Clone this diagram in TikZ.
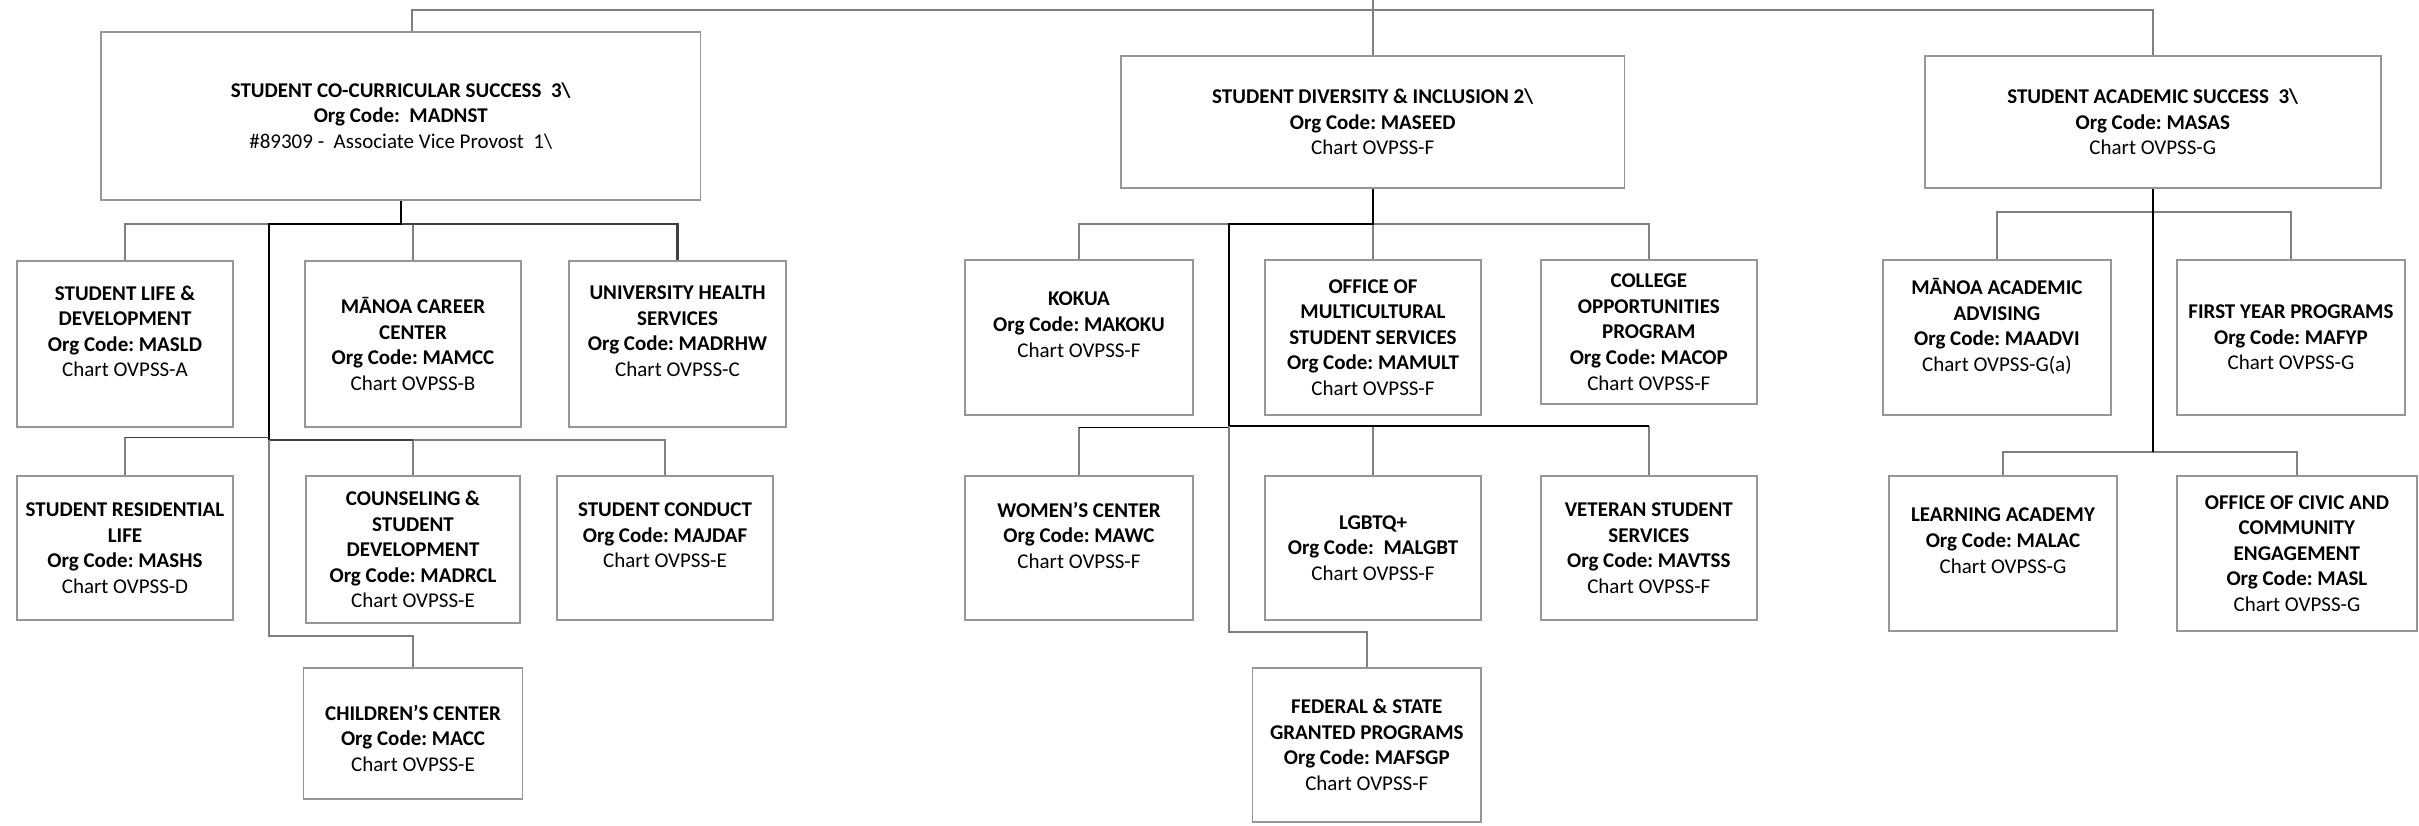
\documentclass[tikz,border=0pt]{standalone}
\usepackage{fontspec}
\setmainfont{Carlito}
\frenchspacing
\definecolor{boxgray}{RGB}{150,150,150}
\definecolor{lngray}{RGB}{128,128,128}
\definecolor{dkgray}{RGB}{64,64,64}
\begin{document}
\frenchspacing
\begin{tikzpicture}[x=1pt,y=-1pt,
  box/.style={draw=boxgray, line width=1.8pt, align=center, inner sep=0pt,
    font=\fontsize{21}{25.6}\selectfont},
  gl/.style={draw=lngray, line width=1.6pt},
  bk/.style={draw=black, line width=2.5pt},
  bkt/.style={draw=black, line width=1.6pt},
  dg/.style={draw=dkgray, line width=2.2pt}]
\useasboundingbox (0,0) rectangle (2419,825);

% ---------- top level boxes ----------
\node[box, minimum width=599.5pt, minimum height=168.3pt] (sccs) at (400.75,115.85)
  {\textbf{STUDENT CO-CURRICULAR SUCCESS\ \ 3\textbackslash}\\ \textbf{Org Code:\ \ MADNST}\\ \#89309 -\ \ Associate Vice Provost\ \ 1\textbackslash};
\node[box, minimum width=503.5pt, minimum height=132pt] (sdi) at (1372.75,122)
  {\textbf{STUDENT DIVERSITY \& INCLUSION 2\textbackslash}\\ \textbf{Org Code: MASEED}\\ Chart OVPSS-F};
\node[box, minimum width=455.9pt, minimum height=132pt] (sas) at (2152.75,122)
  {\textbf{STUDENT ACADEMIC SUCCESS\ \ 3\textbackslash}\\ \textbf{Org Code: MASAS}\\ Chart OVPSS-G};

% ---------- co-curricular group ----------
\node[box, minimum width=216pt, minimum height=166pt] (sld) at (125,344)
  {\textbf{STUDENT LIFE \&}\\ \textbf{DEVELOPMENT}\\ \textbf{Org Code: MASLD}\\ Chart OVPSS-A\\ ~};
\node[box, minimum width=216pt, minimum height=166pt] (mcc) at (413,344)
  {\textbf{MĀNOA CAREER}\\ \textbf{CENTER}\\ \textbf{Org Code: MAMCC}\\ Chart OVPSS-B};
\node[box, minimum width=217pt, minimum height=166pt] (uhs) at (677.5,344)
  {\textbf{UNIVERSITY HEALTH}\\ \textbf{SERVICES}\\ \textbf{Org Code: MADRHW}\\ Chart OVPSS-C\\ ~};
\node[box, minimum width=216pt, minimum height=144pt] (srl) at (125,548)
  {\textbf{STUDENT RESIDENTIAL}\\ \textbf{LIFE}\\ \textbf{Org Code: MASHS}\\ Chart OVPSS-D};
\node[box, minimum width=214pt, minimum height=147pt] (csd) at (413,549.5)
  {\textbf{COUNSELING \&}\\ \textbf{STUDENT}\\ \textbf{DEVELOPMENT}\\ \textbf{Org Code: MADRCL}\\ Chart OVPSS-E};
\node[box, minimum width=216pt, minimum height=144pt] (sc) at (665,548)
  {\textbf{STUDENT CONDUCT}\\ \textbf{Org Code: MAJDAF}\\ Chart OVPSS-E\\ ~};
\node[box, minimum width=219pt, minimum height=131.3pt] (cc) at (413,733.3)
  {\rule{0pt}{12pt}\\[-12.6pt]\textbf{CHILDREN’S CENTER}\\ \textbf{Org Code: MACC}\\ Chart OVPSS-E};

% ---------- diversity group ----------
\node[box, minimum width=228pt, minimum height=155pt] (kok) at (1079,337.5)
  {\textbf{KOKUA}\\ \textbf{Org Code: MAKOKU}\\ Chart OVPSS-F\\ ~};
\node[box, minimum width=216pt, minimum height=155pt] (mul) at (1373,337.5)
  {\textbf{OFFICE OF}\\ \textbf{MULTICULTURAL}\\ \textbf{STUDENT SERVICES}\\ \textbf{Org Code: MAMULT}\\ Chart OVPSS-F};
\node[box, minimum width=216.4pt, minimum height=144pt] (cop) at (1648.8,332)
  {\textbf{COLLEGE}\\ \textbf{OPPORTUNITIES}\\ \textbf{PROGRAM}\\ \textbf{Org Code: MACOP}\\ Chart OVPSS-F};
\node[box, minimum width=228pt, minimum height=144pt] (wc) at (1079,548)
  {\textbf{WOMEN’S CENTER}\\ \textbf{Org Code: MAWC}\\ Chart OVPSS-F\\ ~};
\node[box, minimum width=216pt, minimum height=144pt] (lgb) at (1373,548)
  {\textbf{LGBTQ+}\\ \textbf{Org Code:\ \ MALGBT}\\ Chart OVPSS-F};
\node[box, minimum width=216.4pt, minimum height=144pt] (vss) at (1648.8,548)
  {\textbf{VETERAN STUDENT}\\ \textbf{SERVICES}\\ \textbf{Org Code: MAVTSS}\\ Chart OVPSS-F};
\node[box, minimum width=228.5pt, minimum height=154pt] (fsgp) at (1366.8,745)
  {\textbf{FEDERAL \& STATE}\\ \textbf{GRANTED PROGRAMS}\\ \textbf{Org Code: MAFSGP}\\ Chart OVPSS-F};

% ---------- academic group ----------
\node[box, minimum width=227.7pt, minimum height=155pt] (maa) at (1996.9,337.5)
  {\textbf{MĀNOA ACADEMIC}\\ \textbf{ADVISING}\\ \textbf{Org Code: MAADVI}\\ Chart OVPSS-G(a)\\ ~};
\node[box, minimum width=227.8pt, minimum height=155pt] (fyp) at (2290.9,337.5)
  {\textbf{FIRST YEAR PROGRAMS}\\ \textbf{Org Code: MAFYP}\\ Chart OVPSS-G};
\node[box, minimum width=228pt, minimum height=155pt] (la) at (2003,553.5)
  {\textbf{LEARNING ACADEMY}\\ \textbf{Org Code: MALAC}\\ Chart OVPSS-G\\ ~};
\node[box, minimum width=239.7pt, minimum height=155pt] (occe) at (2296.9,553.5)
  {\textbf{OFFICE OF CIVIC AND}\\ \textbf{COMMUNITY}\\ \textbf{ENGAGEMENT}\\ \textbf{Org Code: MASL}\\ Chart OVPSS-G};

% ---------- junction coordinates ----------
\coordinate (top) at (1372.75,0);
\coordinate (topbus) at (1372.75,10);
\coordinate (sp1top) at (269,224);
\coordinate (sp1a) at (269,437.3);
\coordinate (sp1mid) at (269,439.7);
\coordinate (ccj) at (413,636);
\coordinate (sp2top) at (1229,224);
\coordinate (sp2a) at (1229,427.3);
\coordinate (sp2mid) at (1229,425.7);
\coordinate (fsj) at (1366.8,632);
\coordinate (sasj1) at (2152.75,211.7);
\coordinate (sasj2) at (2152.75,451.7);

% ---------- top connectors ----------
\draw[gl] (top) -- (sdi.north);
\draw[gl] ([xshift=11pt]sccs.north) |- (topbus) -| (sas.north);

% ---------- co-curricular connectors ----------
\draw[gl] (sld.north) |- (sp1top);
\draw[gl] (mcc.north) -- (mcc.north |- sp1top);
\draw[dg] (sccs.south |- sp1top) -| (uhs.north);
\draw[bk] (sccs.south) |- (sp1top) -- (sp1mid);
\draw[gl] (srl.north) -- (srl.north |- sp1a);
\draw[bkt, draw=dkgray] (sp1a) -- (srl.north |- sp1a);
\draw[gl] (csd.north |- sp1mid) -| (sc.north);
\draw[gl] (csd.north) -- (csd.north |- sp1mid);
\draw[dg] (sp1mid) -- (csd.north |- sp1mid);
\draw[gl] (sp1mid) |- (ccj) -- (cc.north);

% ---------- diversity connectors ----------
\draw[gl] (kok.north) |- (sp2top);
\draw[gl] (sdi.south |- sp2top) -| (cop.north);
\draw[gl] (mul.north) -- (mul.north |- sp2top);
\draw[bk] (sdi.south) |- (sp2top) -- (sp2mid);
\draw[gl] (wc.north) -- (wc.north |- sp2a);
\draw[bkt] (sp2a) -- (wc.north |- sp2a);
\draw[gl] (lgb.north) -- (lgb.north |- sp2mid);
\draw[gl] (vss.north) -- (vss.north |- sp2mid);
\draw[bkt] (sp2mid) -- (vss.north |- sp2mid);
\draw[gl] (sp2mid) |- (fsj) -- (fsgp.north);

% ---------- academic connectors ----------
\draw[gl] (maa.north) |- (sasj1) -| (fyp.north);
\draw[gl] (la.north) |- (sasj2) -| (occe.north);
\draw[bkt, line width=2pt] (sas.south) -- (sasj2);
\end{tikzpicture}
\end{document}
